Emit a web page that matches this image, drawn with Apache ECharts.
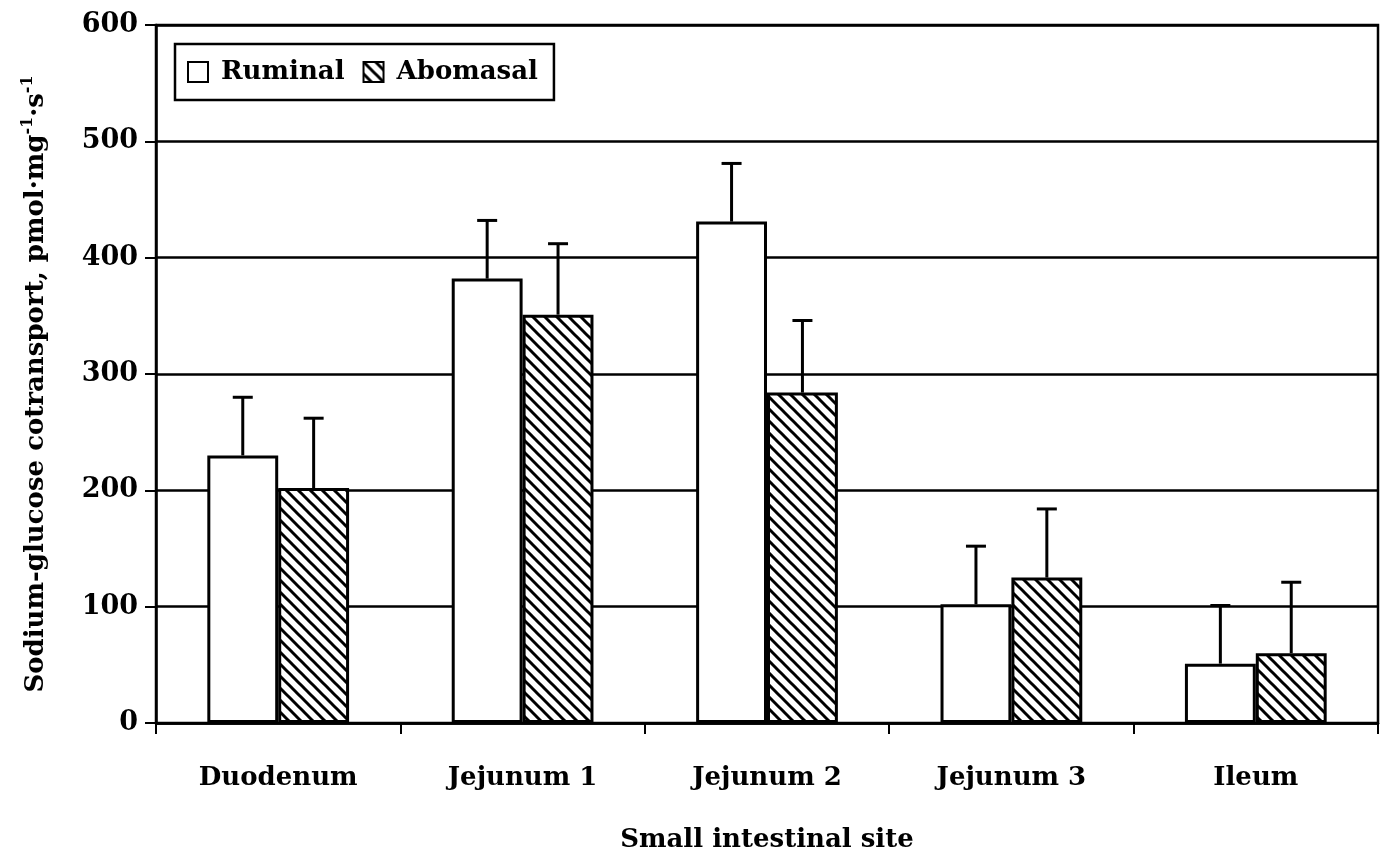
<!DOCTYPE html>
<html>
<head>
<meta charset="utf-8">
<script src="https://cdn.jsdelivr.net/npm/echarts@6/dist/echarts.min.js"></script>
<style>
html,body{margin:0;padding:0;background:#fff;}
#chart{width:1382px;height:858px;}
</style>
</head>
<body>
<div id="chart"></div>
<script>
const categories = ['Duodenum', 'Jejunum 1', 'Jejunum 2', 'Jejunum 3', 'Ileum'];
const ruminal = [230, 382, 431, 102, 51];
const ruminalSE = [50, 50, 50, 50, 50];
const abomasal = [202, 351, 284, 125, 60];
const abomasalSE = [60, 61, 62, 59, 61];
const seriesNames = ['Ruminal', 'Abomasal'];
const yTitle = 'Sodium-glucose cotransport, pmol·mg{sup|-1}·s{sup|-1}';
const xTitle = 'Small intestinal site';

const FONT = '"DejaVu Serif", "Liberation Serif", serif';
const CAT_GAP = 0.42;

function makeHatch() {
  const s = 12;
  const c = document.createElement('canvas');
  c.width = s; c.height = s;
  const ctx = c.getContext('2d');
  ctx.fillStyle = '#fff';
  ctx.fillRect(0, 0, s, s);
  ctx.strokeStyle = '#000';
  ctx.lineWidth = 3;
  for (let k = -1; k <= 1; k++) {
    ctx.beginPath();
    ctx.moveTo(k * s - 2, -2);
    ctx.lineTo(k * s + s + 2, s + 2);
    ctx.stroke();
  }
  return c;
}
const hatch = { image: makeHatch(), repeat: 'repeat' };

function errRender(side) {
  return function (params, api) {
    const i = api.value(0), v = api.value(1), e = api.value(2);
    const base = api.coord([i, v]);
    const top = api.coord([i, v + e]);
    const band = api.size([1, 0])[0];
    const bw = band * (1 - CAT_GAP) / 2;
    const x = base[0] + side * bw / 2;
    return {
      type: 'group',
      children: [
        { type: 'line', shape: { x1: x, y1: base[1], x2: x, y2: top[1] }, style: { stroke: '#000', lineWidth: 3 } },
        { type: 'line', shape: { x1: x - 10, y1: top[1], x2: x + 10, y2: top[1] }, style: { stroke: '#000', lineWidth: 3 } }
      ]
    };
  };
}

const chart = echarts.init(document.getElementById('chart'), null, { renderer: 'canvas' });
chart.setOption({
  animation: false,
  backgroundColor: '#fff',
  grid: { left: 156, right: 4, top: 25, bottom: 130, show: true, borderColor: '#000', borderWidth: 2.5 },
  legend: {
    data: seriesNames,
    left: 175, top: 44,
    orient: 'horizontal',
    icon: 'rect',
    itemWidth: 20, itemHeight: 20,
    itemGap: 18,
    padding: [15, 16, 15, 12],
    borderColor: '#000', borderWidth: 2.5,
    backgroundColor: '#fff',
    textStyle: { fontFamily: FONT, fontWeight: 'bold', fontSize: 26, color: '#000', padding: [0, 0, 0, 8] }
  },
  xAxis: {
    type: 'category',
    data: categories,
    axisLine: { show: true, lineStyle: { color: '#000', width: 2.5 } },
    axisTick: { show: true, length: 11, lineStyle: { color: '#000', width: 2 } },
    axisLabel: { margin: 42, fontFamily: FONT, fontWeight: 'bold', fontSize: 26, color: '#000' },
    name: xTitle,
    nameLocation: 'middle',
    nameGap: 104,
    nameTextStyle: { fontFamily: FONT, fontWeight: 'bold', fontSize: 26, color: '#000' }
  },
  yAxis: {
    type: 'value',
    min: 0, max: 600, interval: 100,
    axisLine: { show: true, lineStyle: { color: '#000', width: 2.5 } },
    axisTick: { show: true, length: 11, lineStyle: { color: '#000', width: 2 } },
    splitLine: { show: true, lineStyle: { color: '#000', width: 2.5 } },
    axisLabel: { margin: 18, fontFamily: FONT, fontWeight: 'bold', fontSize: 27, color: '#000' },
    name: yTitle,
    nameLocation: 'middle',
    nameRotate: 90,
    nameGap: 104,
    nameTextStyle: {
      fontFamily: FONT, fontWeight: 'bold', fontSize: 26, color: '#000',
      padding: [0, 20, 0, 0],
      rich: { sup: { fontFamily: FONT, fontWeight: 'bold', fontSize: 16, color: '#000', verticalAlign: 'top', lineHeight: 32 } }
    }
  },
  series: [
    {
      name: seriesNames[0], type: 'bar', data: ruminal,
      barGap: '0%', barCategoryGap: (CAT_GAP * 100) + '%',
      itemStyle: { color: '#fff', borderColor: '#000', borderWidth: 3 }
    },
    {
      name: seriesNames[1], type: 'bar', data: abomasal,
      itemStyle: { color: hatch, borderColor: '#000', borderWidth: 3 }
    },
    {
      name: 'err0', type: 'custom', renderItem: errRender(-1),
      data: ruminal.map((v, i) => [i, v, ruminalSE[i]]), z: 1
    },
    {
      name: 'err1', type: 'custom', renderItem: errRender(1),
      data: abomasal.map((v, i) => [i, v, abomasalSE[i]]), z: 1
    }
  ]
});
</script>
</body>
</html>
